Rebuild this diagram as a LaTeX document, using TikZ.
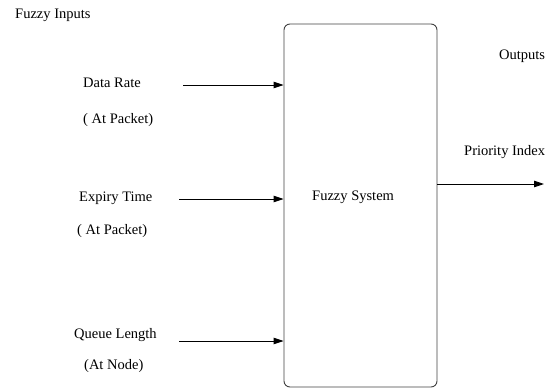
\documentclass[tikz,border=0pt]{standalone}
\usepackage{fontspec}
\setmainfont{Liberation Serif}
\newfontfamily\fzfont{Liberation Serif}
\usepackage{tikz}
\usetikzlibrary{arrows.meta}
\tikzset{
  flbl/.style ={anchor=west, inner sep=0pt, font=\fzfont\fontsize{14.5}{17}\selectfont, text=black},
  fsys/.style ={rectangle, rounded corners=6pt, draw=black!75, line width=0.9pt,
                minimum width=153pt, minimum height=363pt, inner sep=0pt},
  farr/.style ={-{Triangle[length=10pt, width=6.5pt]}, line width=0.9pt, color=black},
}

\begin{document}
\begin{tikzpicture}[x=1pt, y=-1pt]
  \useasboundingbox (0,0) rectangle (554,389);
  \node[fsys] (sys) at (360.5,205.5) {};
  \node[flbl] (syslbl) at (312,197) {Fuzzy System};
  \node[flbl] (inlbl) at (15,15) {Fuzzy Inputs};
  \node[flbl] (outlbl) at (499,56) {Outputs};
  \node[flbl] (dr) at (83,83) {Data Rate};
  \node[flbl] (drsub) at (83,120) {( At Packet)};
  \node[flbl] (et) at (79,198) {Expiry Time};
  \node[flbl] (etsub) at (77,231) {( At Packet)};
  \node[flbl] (ql) at (74,335) {Queue Length};
  \node[flbl] (qlsub) at (84,366) {(At Node)};
  \node[flbl] (pi) at (464,152) {Priority Index};
  \coordinate (drin) at (183,85);
  \coordinate (etin) at (179,199);
  \coordinate (qlin) at (179,341);
  \coordinate (piout) at (544,184);
  \draw[farr] (drin) -- (drin -| sys.west);
  \draw[farr] (etin) -- (etin -| sys.west);
  \draw[farr] (qlin) -- (qlin -| sys.west);
  \draw[farr] (piout -| sys.east) -- (piout);
\end{tikzpicture}
\end{document}
